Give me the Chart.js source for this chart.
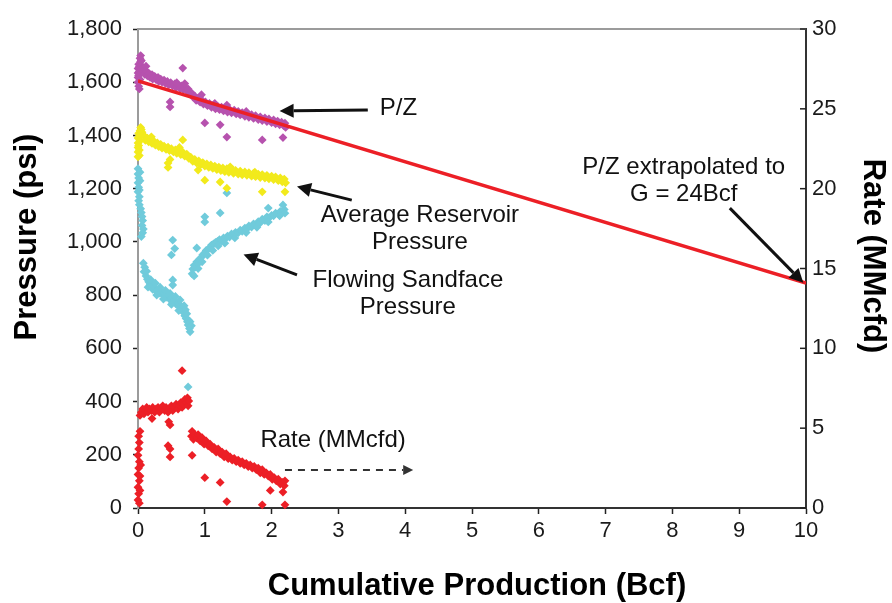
<!DOCTYPE html>
<html>
<head>
<meta charset="utf-8">
<script src="https://cdn.jsdelivr.net/npm/chart.js@4.4.1/dist/chart.umd.min.js"></script>
<style>
  html, body { margin: 0; padding: 0; background: #fff; }
  canvas { display: block; }
</style>
</head>
<body>
<canvas id="pzChart" width="892" height="603"></canvas>
<script>
// --- data: cumulative production (Bcf) vs pressure (psi) / rate (MMcfd) ---
const xTickValues = [0, 1, 2, 3, 4, 5, 6, 7, 8, 9, 10];
const pressureTicks = [0, 200, 400, 600, 800, 1000, 1200, 1400, 1600, 1800];
const rateTicks = [0, 5, 10, 15, 20, 25, 30];

// P/Z straight-line fit, extrapolated
const pzLineCum = [0, 10];
const pzLinePressure = [1605, 845];

// P/Z points
const pzPoints = [
  [0,1600],[0,1618],[0,1635],[0,1652],[0.01,1668],[0.01,1585],[0.02,1575],[0.02,1640],[0.02,1660],
  [0.03,1690],[0.04,1700],[0.04,1678],[0.05,1682],[0.05,1662],[0.06,1650],[0.03,1610],[0.01,1625],
  [0.08,1655],[0.1,1648],[0.1,1630],[0.13,1640],[0.14,1624],[0.17,1632],[0.18,1618],[0.21,1628],
  [0.22,1612],[0.25,1622],[0.27,1610],[0.3,1618],[0.31,1603],[0.34,1612],[0.36,1600],[0.39,1608],
  [0.41,1596],[0.44,1603],[0.46,1590],[0.49,1598],[0.52,1586],[0.55,1594],[0.57,1580],[0.6,1590],
  [0.63,1576],[0.65,1586],[0.68,1572],[0.7,1582],[0.73,1568],[0.75,1575],[0.77,1556],[0.8,1560],
  [0.82,1545],[0.85,1548],[0.87,1532],[0.9,1540],[0.93,1525],[0.96,1532],[0.98,1518],[1.01,1526],
  [1.04,1512],[1.07,1520],[1.1,1506],[1.13,1515],[1.16,1500],[1.19,1510],[1.22,1497],[1.25,1506],
  [1.28,1492],[1.31,1502],[1.34,1488],[1.37,1498],[1.4,1485],[1.44,1495],[1.47,1481],[1.5,1490],
  [1.53,1477],[1.56,1486],[1.6,1472],[1.63,1482],[1.66,1468],[1.7,1478],[1.73,1464],[1.76,1474],
  [1.8,1460],[1.83,1470],[1.86,1456],[1.9,1466],[1.93,1452],[1.96,1462],[2.0,1448],[2.03,1458],
  [2.06,1444],[2.09,1454],[2.12,1440],[2.15,1450],[2.18,1437],[2.2,1446],[2.21,1430],
  [0.67,1653],[0.48,1507],[0.48,1526],[1.0,1447],[1.23,1440],[1.33,1394],[1.33,1514],
  [1.86,1383],[2.17,1392],[0.7,1595],[0.95,1553],[0.12,1660],[0.58,1598],[1.15,1520],[1.62,1490]
];

// average reservoir pressure
const avgPressurePoints = [
  [0,1320],[0,1338],[0,1355],[0,1372],[0,1390],[0.01,1408],[0.02,1325],[0.02,1345],[0.02,1400],
  [0.03,1418],[0.04,1430],[0.05,1422],[0.05,1405],[0.06,1412],[0.01,1362],[0.03,1380],
  [0.08,1402],[0.1,1395],[0.11,1382],[0.14,1390],[0.16,1376],[0.19,1384],[0.21,1370],[0.24,1378],
  [0.26,1364],[0.29,1372],[0.31,1358],[0.34,1366],[0.36,1352],[0.39,1360],[0.42,1348],[0.45,1356],
  [0.47,1343],[0.5,1350],[0.53,1338],[0.56,1346],[0.58,1333],[0.61,1341],[0.64,1328],[0.67,1337],
  [0.7,1322],[0.73,1330],[0.76,1314],[0.79,1318],[0.82,1303],[0.85,1310],[0.88,1296],[0.91,1304],
  [0.94,1290],[0.97,1298],[1.0,1285],[1.03,1293],[1.06,1280],[1.09,1289],[1.12,1276],[1.15,1285],
  [1.18,1272],[1.21,1281],[1.24,1268],[1.27,1278],[1.3,1264],[1.33,1275],[1.36,1261],[1.4,1272],
  [1.43,1258],[1.46,1269],[1.5,1255],[1.53,1266],[1.56,1252],[1.6,1263],[1.63,1250],[1.66,1260],
  [1.7,1247],[1.73,1258],[1.76,1245],[1.8,1255],[1.83,1242],[1.86,1253],[1.9,1240],[1.93,1250],
  [1.96,1237],[2.0,1247],[2.03,1234],[2.06,1244],[2.1,1230],[2.13,1240],[2.16,1226],[2.19,1236],
  [2.21,1222],
  [0.67,1383],[0.45,1296],[0.45,1280],[0.48,1310],[1.0,1232],[1.23,1225],[1.33,1202],
  [1.86,1188],[2.2,1188],[0.9,1270],[0.2,1395],[0.62,1355],[1.38,1282],[1.75,1262]
];

// flowing sandface pressure
const sandfacePoints = [
  [0,1275],[0,1255],[0.01,1240],[0,1222],[0.01,1205],[0,1188],[0.02,1170],[0.01,1155],[0.02,1140],
  [0.03,1262],[0.03,1230],[0.02,1195],[0.04,1125],[0.05,1110],[0.06,1095],[0.07,1080],[0.06,1062],
  [0.08,1048],[0.07,1034],[0.05,1020],
  [0.08,920],[0.1,905],[0.09,888],[0.12,872],[0.14,860],[0.16,850],[0.18,842],[0.15,830],[0.2,835],
  [0.22,822],[0.25,828],[0.27,815],[0.3,820],[0.32,808],[0.35,812],[0.37,800],[0.4,805],[0.42,792],
  [0.45,797],[0.47,785],[0.5,788],[0.52,775],[0.55,780],[0.57,766],[0.6,770],[0.62,755],[0.64,760],
  [0.66,744],[0.68,735],[0.7,722],[0.72,712],[0.74,700],[0.75,688],[0.77,675],[0.78,662],[0.73,730],
  [0.76,705],[0.13,890],[0.19,858],[0.26,845],[0.33,830],[0.41,818],[0.48,806],[0.56,795],[0.63,782],
  [0.69,760],[0.71,745],[0.78,700],[0.8,685],[0.28,800],[0.38,785],[0.5,765],[0.61,742],
  [0.81,880],[0.82,898],[0.84,912],[0.86,905],[0.88,925],[0.9,918],[0.92,935],[0.95,942],[0.97,952],
  [1.0,958],[1.02,968],[1.05,972],[1.08,980],[1.1,988],[1.13,992],[1.16,998],[1.19,1002],[1.22,1008],
  [1.25,1004],[1.28,1015],[1.31,1012],[1.34,1022],[1.37,1018],[1.4,1030],[1.43,1026],[1.46,1036],
  [1.5,1034],[1.53,1044],[1.56,1040],[1.6,1052],[1.63,1048],[1.66,1060],[1.7,1056],[1.73,1068],
  [1.76,1064],[1.8,1076],[1.83,1072],[1.86,1085],[1.9,1080],[1.93,1094],[1.96,1090],[2.0,1100],
  [2.03,1098],[2.06,1108],[2.1,1105],[2.13,1115],[2.16,1112],[2.19,1122],[2.2,1108],
  [0.84,872],[0.9,900],[0.96,925],[1.04,950],[1.12,968],[1.2,985],[1.3,995],[1.45,1015],[1.62,1035],
  [1.78,1055],[1.95,1075],[2.12,1098],
  [1.0,1094],[1.0,1075],[1.23,1109],[0.52,1007],[0.55,975],[0.5,951],[0.88,977],[0.52,857],
  [0.52,838],[1.95,1127],[2.17,1139],[1.33,1184],[0.75,455]
];

// gas rate, MMcfd (right axis)
const ratePoints = [
  [0,0.5],[0.01,0.9],[0,1.3],[0.02,1.7],[0,2.1],[0.01,2.5],[0.02,2.9],[0,3.3],[0.01,3.7],[0.02,4.1],
  [0.01,4.5],[0.03,4.8],[0.02,0.3],[0.03,1.1],[0.03,2.0],[0.04,2.7],
  [0.03,5.8],[0.05,6.0],[0.07,6.2],[0.09,5.9],[0.11,6.1],[0.13,6.3],[0.15,6.0],[0.17,6.2],[0.2,6.1],
  [0.22,6.3],[0.25,6.0],[0.27,6.2],[0.3,6.3],[0.32,6.0],[0.35,6.2],[0.37,6.4],[0.4,6.1],[0.42,6.3],
  [0.45,6.0],[0.47,6.2],[0.5,6.4],[0.52,6.1],[0.55,6.3],[0.57,6.5],[0.6,6.2],[0.62,6.4],[0.64,6.6],
  [0.66,6.3],[0.68,6.5],[0.7,6.8],[0.72,6.6],[0.74,6.9],[0.75,6.4],[0.76,6.7],
  [0.66,8.6],[0.21,5.6],[0.48,5.2],[0.46,5.4],[0.45,3.9],[0.48,3.7],[0.48,3.2],
  [0.8,4.5],[0.81,4.8],[0.83,4.3],[0.85,4.6],[0.88,4.4],[0.9,4.6],[0.93,4.2],[0.96,4.4],[0.99,4.0],
  [1.02,4.2],[1.05,3.9],[1.08,4.0],[1.11,3.7],[1.14,3.8],[1.17,3.5],[1.2,3.7],[1.23,3.4],[1.26,3.5],
  [1.29,3.2],[1.32,3.4],[1.35,3.1],[1.38,3.2],[1.41,3.0],[1.44,3.1],[1.47,2.9],[1.5,3.0],[1.53,2.8],
  [1.56,2.9],[1.59,2.7],[1.62,2.8],[1.65,2.6],[1.68,2.7],[1.71,2.5],[1.74,2.6],[1.77,2.4],[1.8,2.5],
  [1.83,2.2],[1.86,2.4],[1.89,2.1],[1.92,2.2],[1.95,2.0],[1.98,2.1],[2.01,1.8],[2.04,1.9],[2.07,1.7],
  [2.1,1.8],[2.13,1.5],[2.16,1.6],[2.19,1.4],[2.2,1.7],
  [0.81,3.3],[1.0,1.9],[1.23,1.6],[1.33,0.4],[1.86,0.2],[2.2,0.2],[1.98,1.1],[2.17,1.0]
];

const PURPLE = '#b652ae';
const YELLOW = '#f2ea1c';
const CYAN = '#70cbdb';
const RED = '#ec1f26';
const FONT = '"Liberation Sans", Arial, Helvetica, sans-serif';

const toXY = pts => pts.map(p => ({ x: p[0], y: p[1] }));

function pointSet(label, pts, color, axis) {
  return {
    type: 'scatter',
    label: label,
    data: toXY(pts),
    yAxisID: axis,
    backgroundColor: color,
    borderWidth: 0,
    pointStyle: 'rectRot',
    pointRadius: 4.4,
    clip: false,
    order: 2
  };
}

// text labels and arrows, placed in data units (x: Bcf, y: psi)
const notes = [
  { lines: ['P/Z'], x: 3.9, y: 1500 },
  { lines: ['Average Reservoir', 'Pressure'], x: 4.22, y: 1101 },
  { lines: ['Flowing Sandface', 'Pressure'], x: 4.04, y: 857 },
  { lines: ['P/Z extrapolated to', 'G = 24Bcf'], x: 8.17, y: 1281 },
  { lines: ['Rate (MMcfd)'], x: 2.92, y: 256 }
];
const arrows = [
  { from: [3.44, 1496], to: [2.12, 1492] },
  { from: [3.2, 1157], to: [2.38, 1208] },
  { from: [2.38, 876], to: [1.58, 953] },
  { from: [8.86, 1127], to: [9.96, 846] },
  { from: [2.2, 143], to: [4.12, 143], dashed: true }
];

function drawArrow(ctx, x1, y1, x2, y2, dashed) {
  const ang = Math.atan2(y2 - y1, x2 - x1);
  const head = dashed ? 10 : 14;
  const hw = dashed ? 5 : 7;
  const bx = x2 - head * Math.cos(ang), by = y2 - head * Math.sin(ang);
  ctx.save();
  ctx.strokeStyle = dashed ? '#333' : '#111';
  ctx.fillStyle = dashed ? '#333' : '#111';
  ctx.lineWidth = dashed ? 2 : 3;
  if (dashed) ctx.setLineDash([7, 6]);
  ctx.beginPath();
  ctx.moveTo(x1, y1);
  ctx.lineTo(bx, by);
  ctx.stroke();
  ctx.setLineDash([]);
  ctx.beginPath();
  ctx.moveTo(x2, y2);
  ctx.lineTo(bx + hw * Math.sin(ang), by - hw * Math.cos(ang));
  ctx.lineTo(bx - hw * Math.sin(ang), by + hw * Math.cos(ang));
  ctx.closePath();
  ctx.fill();
  ctx.restore();
}

const decorations = {
  id: 'decorations',
  afterDraw(chart) {
    const ctx = chart.ctx;
    const area = chart.chartArea;
    const xs = chart.scales.x, ys = chart.scales.y, rs = chart.scales.y2;

    // top frame line
    ctx.save();
    ctx.strokeStyle = '#9b9b9b';
    ctx.lineWidth = 2;
    ctx.beginPath();
    ctx.moveTo(area.left, area.top);
    ctx.lineTo(area.right, area.top);
    ctx.stroke();

    // right axis ticks point inward
    ctx.strokeStyle = '#222';
    ctx.lineWidth = 1.5;
    rateTicks.forEach(v => {
      const py = rs.getPixelForValue(v);
      ctx.beginPath();
      ctx.moveTo(area.right - 6, py);
      ctx.lineTo(area.right, py);
      ctx.stroke();
    });
    ctx.restore();

    arrows.forEach(a => {
      drawArrow(ctx,
        xs.getPixelForValue(a.from[0]), ys.getPixelForValue(a.from[1]),
        xs.getPixelForValue(a.to[0]), ys.getPixelForValue(a.to[1]), a.dashed);
    });

    ctx.save();
    ctx.fillStyle = '#111';
    ctx.font = '24px ' + FONT;
    ctx.textAlign = 'center';
    ctx.textBaseline = 'middle';
    notes.forEach(n => {
      const cx = xs.getPixelForValue(n.x);
      const cy = ys.getPixelForValue(n.y);
      n.lines.forEach((t, i) => ctx.fillText(t, cx, cy + i * 27));
    });

    // axis titles
    ctx.font = 'bold 31px ' + FONT;
    ctx.fillStyle = '#000';
    ctx.fillText('Cumulative Production (Bcf)', 477, 586);

    ctx.save();
    ctx.translate(27, 237);
    ctx.rotate(-Math.PI / 2);
    ctx.fillText('Pressure (psi)', 0, 0);
    ctx.restore();

    ctx.save();
    ctx.translate(873, 256);
    ctx.rotate(Math.PI / 2);
    ctx.fillText('Rate (MMcfd)', 0, 0);
    ctx.restore();
    ctx.restore();
  }
};

new Chart(document.getElementById('pzChart'), {
  data: {
    datasets: [
      {
        type: 'line',
        label: 'P/Z fit',
        data: pzLineCum.map((c, i) => ({ x: c, y: pzLinePressure[i] })),
        yAxisID: 'y',
        borderColor: RED,
        borderWidth: 3.5,
        pointRadius: 0,
        fill: false,
        order: 1
      },
      pointSet('P/Z', pzPoints, PURPLE, 'y'),
      pointSet('Average Reservoir Pressure', avgPressurePoints, YELLOW, 'y'),
      pointSet('Flowing Sandface Pressure', sandfacePoints, CYAN, 'y'),
      pointSet('Rate (MMcfd)', ratePoints, RED, 'y2')
    ]
  },
  options: {
    responsive: false,
    animation: false,
    devicePixelRatio: 1,
    layout: { padding: { top: 29, left: 0, right: 0, bottom: 0 } },
    plugins: { legend: { display: false }, tooltip: { enabled: false } },
    scales: {
      x: {
        type: 'linear',
        min: 0,
        max: 10,
        afterBuildTicks: s => { s.ticks = xTickValues.map(v => ({ value: v })); },
        afterFit: s => { s.height = 95; },
        ticks: { color: '#1a1a1a', font: { family: FONT, size: 22 }, padding: 4 },
        grid: { drawOnChartArea: false, drawTicks: true, tickLength: 6, tickColor: '#222', tickWidth: 1.5 },
        border: { color: '#333', width: 2 }
      },
      y: {
        type: 'linear',
        position: 'left',
        min: 0,
        max: 1800,
        afterBuildTicks: s => { s.ticks = pressureTicks.map(v => ({ value: v })); },
        afterFit: s => { s.width = 138; },
        ticks: {
          color: '#1a1a1a',
          font: { family: FONT, size: 22 },
          padding: 11,
          callback: v => v.toLocaleString('en-US')
        },
        grid: { drawOnChartArea: false, drawTicks: true, tickLength: 5, tickColor: '#222', tickWidth: 1.5 },
        border: { color: '#9b9b9b', width: 2 }
      },
      y2: {
        type: 'linear',
        position: 'right',
        min: 0,
        max: 30,
        afterBuildTicks: s => { s.ticks = rateTicks.map(v => ({ value: v })); },
        afterFit: s => { s.width = 86; },
        ticks: { color: '#1a1a1a', font: { family: FONT, size: 22 }, padding: 6 },
        grid: { drawOnChartArea: false, drawTicks: false },
        border: { color: '#333', width: 2 }
      }
    }
  },
  plugins: [decorations]
});
</script>
</body>
</html>
